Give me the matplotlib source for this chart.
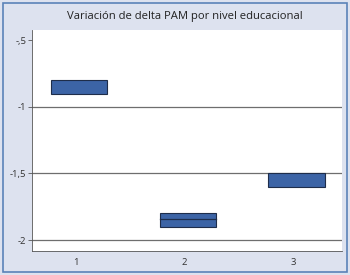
import matplotlib.pyplot as plt
from matplotlib.patches import Rectangle

plt.rcParams['font.family'] = ['Open Sans', 'DejaVu Sans']

# nivel educacional
niveles = [1, 2, 3]
caja_alta = [-0.80, -1.795, -1.50]
caja_baja = [-0.905, -1.905, -1.60]
mediana = [None, -1.845, None]
ticks_y = [-0.5, -1.0, -1.5, -2.0]
etiquetas_y = ["-,5", "-1", "-1,5", "-2"]

fondo = "#dde2ef"
azul = "#3c64a6"

fig = plt.figure(figsize=(3.5, 2.75), dpi=100, facecolor=fondo)
fig.patches.append(Rectangle((0.009, 0.011), 0.982, 0.978, transform=fig.transFigure,
                             fill=False, ec="#5b82b8", lw=1.2))
ax = fig.add_axes([32 / 350, 24 / 275, 310 / 350, 221 / 275])
ax.set_facecolor("white")

for y in [-1.0, -1.5, -2.0]:
    ax.axhline(y, color="#6e6e6e", lw=0.9, zorder=1)

alturas = [a - b for a, b in zip(caja_alta, caja_baja)]
ax.bar([n + 0.03 for n in niveles], alturas, bottom=caja_baja, width=0.52,
       color=azul, edgecolor="#1e2d4a", lw=0.8, zorder=3)
for n, m in zip(niveles, mediana):
    if m is not None:
        ax.plot([n + 0.03 - 0.26, n + 0.03 + 0.26], [m, m], color="#1e2d4a", lw=0.9, zorder=4)

ax.set_xlim(0.595, 3.45)
ax.set_ylim(-2.082, -0.425)
ax.set_xticks(niveles)
ax.set_xticklabels([str(n) for n in niveles])
ax.set_yticks(ticks_y)
ax.set_yticklabels(etiquetas_y)
ax.tick_params(axis="x", length=0, labelsize=6.8, pad=5, labelcolor="#333333")
ax.tick_params(axis="y", length=3, width=0.6, labelsize=6.8, pad=1, color="#555555",
               labelcolor="#333333")
for lado in ["top", "right"]:
    ax.spines[lado].set_visible(False)
ax.spines["left"].set_color("#555555")
ax.spines["bottom"].set_color("#555555")
ax.spines["left"].set_linewidth(0.6)
ax.spines["bottom"].set_linewidth(0.6)

fig.text(185 / 350, 1 - 17 / 275, "Variación de delta PAM por nivel educacional",
         ha="center", va="center", fontsize=8.1, color="#222222")

fig.savefig("out.png", facecolor=fondo)
